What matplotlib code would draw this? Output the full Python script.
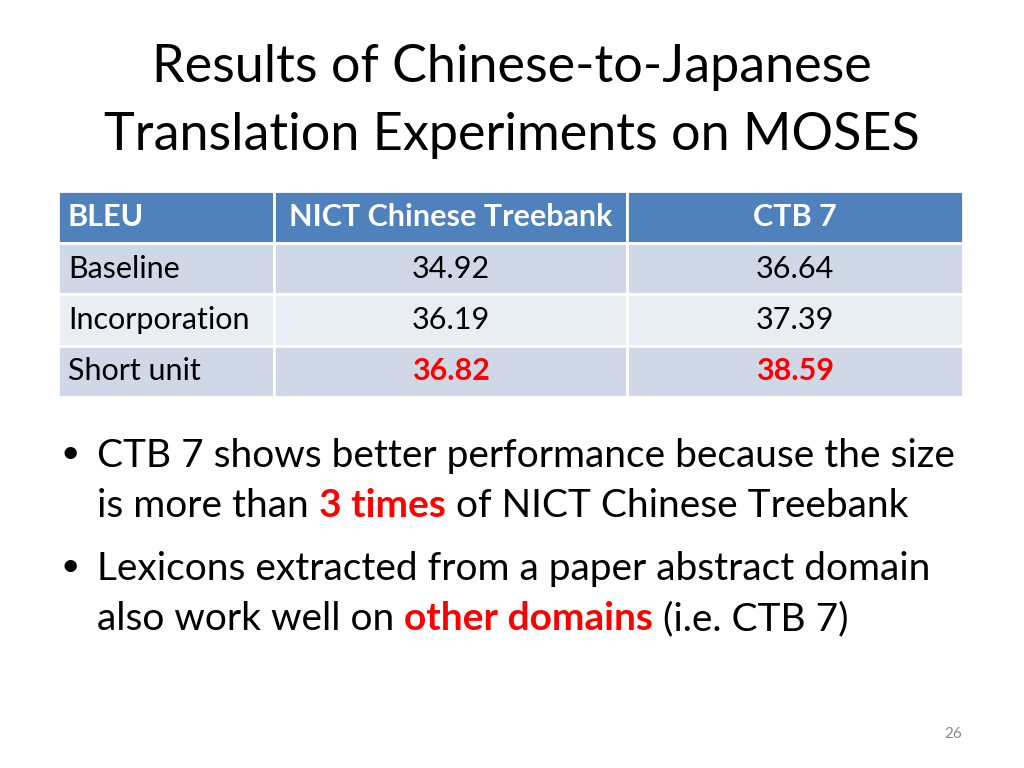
import matplotlib
matplotlib.use("Agg")
import matplotlib.pyplot as plt
from matplotlib.patches import Rectangle

plt.rcParams['font.family'] = ['Lato', 'DejaVu Sans']

# slide content
title_lines = ["Results of Chinese-to-Japanese", "Translation Experiments on MOSES"]
col_headers = ["BLEU", "NICT Chinese Treebank", "CTB 7"]
row_labels = ["Baseline", "Incorporation", "Short unit"]
nict_scores = [34.92, 36.19, 36.82]
ctb_scores = [36.64, 37.39, 38.59]
best_row = [False, False, True]
bullets = [
    [[("CTB 7 shows better performance because the size", "k", "normal")],
     [("is more than ", "k", "normal"), ("3 times", "red", "bold"),
      (" of NICT Chinese Treebank", "k", "normal")]],
    [[("Lexicons extracted from a paper abstract domain", "k", "normal")],
     [("also work well on ", "k", "normal"), ("other domains", "red", "bold"),
      (" (i.e. CTB 7)", "k", "normal")]],
]
page_no = "26"

# layout (pixels)
col_edges = [58, 274, 627, 963]
row_top = 191
row_h = 51.5
header_col = "#4F81BD"
band_cols = ["#D0D8E8", "#E9EDF4"]

fig = plt.figure(figsize=(10.24, 7.68), dpi=100)
ax = fig.add_axes([0, 0, 1, 1])
ax.set_xlim(0, 1024)
ax.set_ylim(768, 0)
ax.axis("off")

# title
for i, line in enumerate(title_lines):
    ax.text(512, 82 + i * 68, line, ha="center", va="baseline", fontsize=37.5)

# table
rows = [col_headers] + [[lab, f"{a:.2f}", f"{b:.2f}"]
                        for lab, a, b in zip(row_labels, nict_scores, ctb_scores)]
for r, cells in enumerate(rows):
    y0 = row_top + r * row_h
    fc = header_col if r == 0 else band_cols[(r - 1) % 2]
    for c, txt in enumerate(cells):
        x0, x1 = col_edges[c], col_edges[c + 1]
        ax.add_patch(Rectangle((x0, y0), x1 - x0, row_h, facecolor=fc,
                               edgecolor="white", linewidth=2))
        if r == 0:
            color, weight = "white", "bold"
        elif c > 0 and best_row[r - 1]:
            color, weight = "red", "bold"
        else:
            color, weight = "black", "normal"
        if c == 0:
            ax.text(x0 + 10, y0 + 35, txt, ha="left", va="baseline",
                    fontsize=22, color=color, weight=weight)
        else:
            ax.text((x0 + x1) / 2, y0 + 35, txt, ha="center", va="baseline",
                    fontsize=22, color=color, weight=weight)

# bullets with coloured runs
fig.canvas.draw()
renderer = fig.canvas.get_renderer()
inv = ax.transData.inverted()
baselines = [[467, 517], [580, 630]]
for b, lines in enumerate(bullets):
    ax.text(60, baselines[b][0] - 4, "\u2022", ha="left", va="baseline", fontsize=24)
    for l, runs in enumerate(lines):
        x = 97
        for txt, color, weight in runs:
            t = ax.text(x, baselines[b][l], txt, ha="left", va="baseline",
                        fontsize=28, color=color, weight=weight)
            bb = t.get_window_extent(renderer=renderer)
            x = inv.transform((bb.x1, bb.y1))[0]

ax.text(953, 738, page_no, ha="center", va="baseline", fontsize=11, color="#888888")

fig.savefig("out.png", dpi=100, facecolor="white")
